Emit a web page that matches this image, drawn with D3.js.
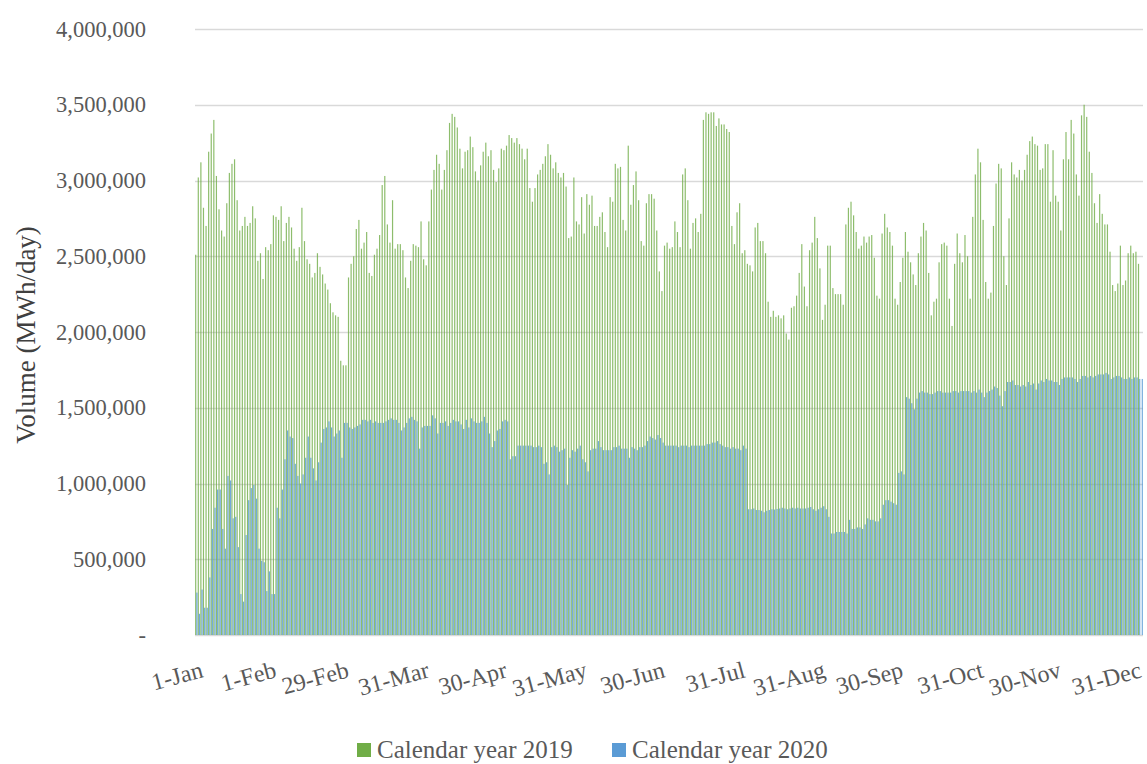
<!DOCTYPE html>
<html>
<head>
<meta charset="utf-8">
<script src="https://cdn.jsdelivr.net/npm/d3@7"></script>
<style>
  html, body { margin: 0; padding: 0; background: #fff; }
  svg { display: block; }
</style>
</head>
<body>
<svg id="chart" width="1147" height="764"></svg>
<script>
// Values in thousands of MWh/day, one per day (category = day of year, 1-Jan .. 31-Dec)
const UNIT = 1000;

const series2019 = [
2510,3020,3120,2820,2700,3190,3310,3400,3030,2810,
2670,2630,2850,3050,3110,3140,2870,2670,2700,2760,
2700,2720,2830,2750,2470,2520,2350,2560,2540,2580,
2770,2760,2740,2830,2600,2720,2760,2690,2550,2470,
2560,2820,2600,2480,2450,2360,2390,2520,2430,2380,
2320,2280,2190,2130,2110,2100,1810,1780,1780,2360,
2450,2500,2680,2740,2550,2590,2660,2390,2370,2510,
2550,2640,2970,3030,2710,2590,2870,2550,2580,2580,
2540,2360,2290,2470,2580,2570,2560,2730,2480,2440,
2730,
2940,3070,3170,3110,2940,3070,3200,3380,3440,3420,
3350,3210,3080,3190,3200,3290,3220,3060,3000,3100,
3190,3250,3160,3200,3070,2990,3080,3210,3200,3230,
3300,3280,3250,3280,3240,3210,3140,3210,2950,2860,
2950,3040,3070,3110,3160,3240,3170,3080,3120,3050,
3020,3050,2960,2620,2630,3020,2730,2710,2890,2650,
2910,2840,2900,2700,2700,2760,2790,2660,2560,2890,
2860,3110,3080,3090,2740,2670,3230,2840,2970,3060,
2870,2600,2570,2850,2910,2910,2880,2670,2400,2270,
2570,2590,2550,
2560,2730,2660,2560,3040,3080,2870,2550,2720,2750,
2660,2780,3400,3450,3440,3450,3450,3360,3410,3370,
3370,3340,3320,2700,2580,2790,2850,2520,2540,2450,
2440,2400,2690,2720,2600,2600,2520,2200,2100,2140,
2100,2110,2090,2110,1990,1950,2160,2170,2240,2390,
2580,2300,2170,2540,2590,2760,2620,2420,2080,2180,
2570,2570,2290,2250,2250,2250,2180,2710,2820,2860,
2770,2660,2550,2570,2630,2590,2630,2640,2490,2240,
2220,2650,2780,2690,2660,2570,2220,2180,2330,2490,
2660,2530,
2460,2380,2310,2520,2630,2720,2670,2390,2110,2200,
2220,2460,2580,2590,2570,2220,2040,2450,2650,2520,
2460,2640,2500,2220,2760,3040,3210,3120,2740,2330,
2220,2260,2700,2980,3110,3080,2500,2310,2750,3120,
3040,3020,3070,3000,3070,3170,3260,3290,3240,3230,
3070,3080,3240,3240,2860,3200,2900,2860,2670,3140,
3320,3140,3400,3310,3040,2900,3430,3500,3420,3190,
3050,2850,2720,2910,2780,2710,2710,2530,2310,2270,
2320,2570,2310,2340,2520,2570,2520,2530,2450
];

const series2020 = [
280,140,300,180,180,380,700,840,960,960,
700,570,1050,1020,770,780,580,270,220,660,
890,970,990,900,570,490,480,290,420,270,
270,840,770,960,1160,1350,1310,1300,1130,1050,
1000,1060,1170,1310,1170,1100,1020,1140,1270,1360,
1370,1410,1370,1310,1330,1350,1170,1400,1400,1370,
1360,1370,1380,1390,1420,1420,1410,1420,1400,1410,
1400,1400,1400,1410,1420,1430,1420,1420,1400,1350,
1370,1400,1430,1440,1420,1410,1230,1370,1380,1380,
1380,1450,1430,1330,1400,1400,1410,1380,1400,1420,
1410,1410,1390,1360,1420,1370,1430,1410,1400,1400,
1410,1440,1400,1330,1240,1280,1350,1360,1410,1420,
1410,1160,1180,1180,1250,1250,1250,1250,1250,1250,
1240,1240,1250,1240,1130,1140,1060,1240,1250,1240,
1210,1220,1230,990,1170,1220,1210,1230,1250,1160,
1140,1080,1220,1230,1230,1280,1240,1220,1220,1220,
1220,1240,1240,1250,1230,1230,1230,1170,1240,1230,
1220,1240,1240,1250,1280,1310,1300,1290,1320,1300,
1270,1250,1250,
1250,1250,1250,1240,1250,1250,1250,1240,1250,1250,
1250,1250,1250,1250,1260,1260,1270,1270,1280,1260,
1250,1240,1240,1230,1240,1230,1230,1220,1250,1230,
830,830,835,825,825,820,810,820,825,830,
828,832,835,840,835,830,835,840,835,840,
835,835,835,840,845,830,820,830,840,850,830,
780,670,670,680,680,680,680,670,760,700,
700,710,710,700,730,770,760,760,750,750,
770,860,890,890,880,870,860,1070,1080,1060,1570,
1560,1530,1490,1560,1600,1610,1600,1600,1590,1590,
1600,1610,1610,1600,1600,1600,1600,1610,1610,1600,
1610,1610,1610,1610,1600,1610,1600,1620,1600,1570,
1600,1610,1620,1640,1630,1580,1510,1610,1670,1670,
1680,1650,1650,1640,1650,1640,1670,1650,1660,1620,
1660,1680,1670,1690,1680,1680,1670,1670,1650,1690,
1700,1700,1700,1700,1690,1670,1690,1710,1710,1700,
1710,1700,1710,1720,1720,1720,1730,1720,1690,1700,
1710,1710,1700,1690,1690,1700,1690,1700,1700,1690,
1690
];

const seriesNames = ["Calendar year 2019", "Calendar year 2020"];
const seriesColors = ["#70AD47", "#5B9BD5"];

const tickDays   = [0, 31, 59, 90, 120, 151, 181, 212, 243, 273, 304, 334, 365];
const tickLabels = ["1-Jan","1-Feb","29-Feb","31-Mar","30-Apr","31-May","30-Jun","31-Jul","31-Aug","30-Sep","31-Oct","30-Nov","31-Dec"];
const yTicks = [0, 500000, 1000000, 1500000, 2000000, 2500000, 3000000, 3500000, 4000000];
const yTitle = "Volume (MWh/day)";

const FONT = "'Liberation Serif', 'DejaVu Serif', serif";
const svg = d3.select("#chart");

const nDays = 366;
const x = d3.scaleBand().domain(d3.range(nDays)).range([195, 1143]).paddingInner(0).paddingOuter(0);
const y = d3.scaleLinear().domain([0, 4000000]).range([635, 29]);
const bw = x.bandwidth();

// gridlines
svg.append("g").selectAll("line").data(yTicks).join("line")
  .attr("x1", 195).attr("x2", 1143)
  .attr("y1", d => Math.round(y(d)) + 0.5).attr("y2", d => Math.round(y(d)) + 0.5)
  .attr("stroke", "#d9d9d9").attr("stroke-width", 1.4);

// y tick labels
svg.append("g").selectAll("text").data(yTicks).join("text")
  .attr("x", 146).attr("y", d => y(d) + 7.5)
  .attr("text-anchor", "end")
  .attr("font-family", FONT).attr("font-size", 22.5).attr("fill", "#595959")
  .text(d => d === 0 ? "-   " : d3.format(",")(d));

// bars
const g = svg.append("g");
g.selectAll("rect.s19").data(series2019).join("rect")
  .attr("class", "s19")
  .attr("x", (d, i) => x(i) + bw * 0.04)
  .attr("width", bw * 0.46)
  .attr("y", d => y(d * UNIT))
  .attr("height", d => y(0) - y(d * UNIT))
  .attr("fill", seriesColors[0]).attr("fill-opacity", 0.8);
g.selectAll("rect.s20").data(series2020).join("rect")
  .attr("class", "s20")
  .attr("x", (d, i) => x(i) + bw * 0.5)
  .attr("width", bw * 0.46)
  .attr("y", d => y(d * UNIT))
  .attr("height", d => y(0) - y(d * UNIT))
  .attr("fill", seriesColors[1]).attr("fill-opacity", 0.85);

// x tick labels (rotated)
svg.append("g").selectAll("text").data(tickDays).join("text")
  .attr("transform", (d, i) => `translate(${x(d) + bw / 2 + (i === 0 ? 8 : 1)},${677}) rotate(-15)`)
  .attr("text-anchor", "end")
  .attr("font-family", FONT).attr("font-size", 24).attr("fill", "#595959")
  .text((d, i) => tickLabels[i]);

// y axis title
svg.append("text")
  .attr("transform", "translate(35,335) rotate(-90)")
  .attr("text-anchor", "middle")
  .attr("font-family", FONT).attr("font-size", 27).attr("fill", "#404040")
  .text(yTitle);

// legend
const legendX = [357, 612];
const lg = svg.append("g").selectAll("g").data(seriesNames).join("g")
  .attr("transform", (d, i) => `translate(${legendX[i]},743)`);
lg.append("rect").attr("width", 14).attr("height", 14).attr("fill", (d, i) => seriesColors[i]);
lg.append("text").attr("x", 20).attr("y", 14.5)
  .attr("font-family", FONT).attr("font-size", 25).attr("fill", "#595959")
  .text(d => d);
</script>
</body>
</html>
